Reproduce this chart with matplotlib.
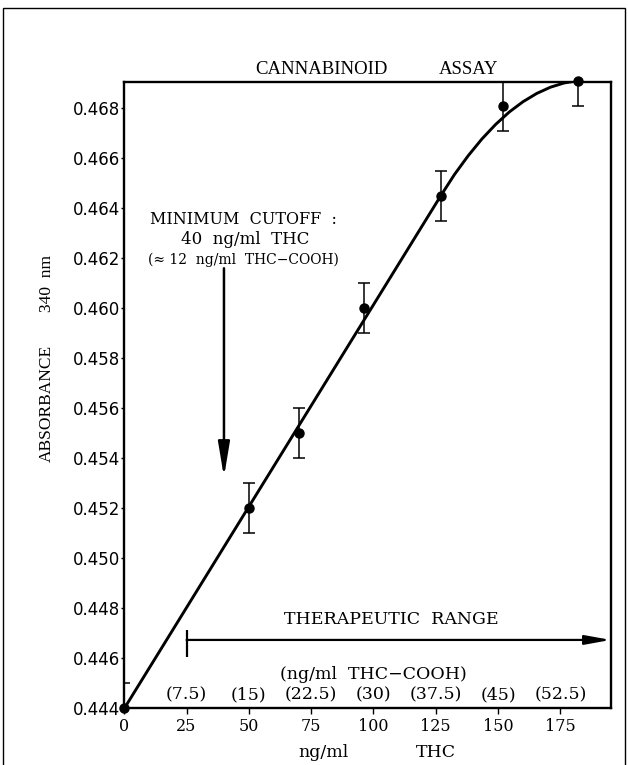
import matplotlib
matplotlib.use('Agg')
import matplotlib.pyplot as plt
from matplotlib.patches import Rectangle

# measured points (ng/ml THC vs absorbance at 340 nm)
conc = [0, 50, 70, 96, 127, 152, 182]
absorb = [0.444, 0.452, 0.455, 0.460, 0.4645, 0.4681, 0.4691]
err = [0.001, 0.001, 0.001, 0.001, 0.001, 0.001, 0.001]

# fitted calibration curve
curve_x = [0, 127, 132.5, 138, 143.5, 149, 154.5, 160, 165.5, 171, 176.5, 182]
curve_y = [0.4440, 0.4645, 0.46535, 0.46610, 0.46677, 0.46735, 0.46785,
           0.46826, 0.46859, 0.46884, 0.46901, 0.4691]

x_ticks = [0, 25, 50, 75, 100, 125, 150, 175]
y_ticks = [0.444, 0.446, 0.448, 0.450, 0.452, 0.454, 0.456, 0.458,
           0.460, 0.462, 0.464, 0.466, 0.468]
cooh_labels = ['(7.5)', '(15)', '(22.5)', '(30)', '(37.5)', '(45)', '(52.5)']
cooh_x = [25, 50, 75, 100, 125, 150, 175]

cutoff_x = 40
therapeutic_start = 25

SERIF = 'DejaVu Serif'
TIMES = 'Liberation Serif'

fig = plt.figure(figsize=(6.28, 7.65), dpi=100)
ax = fig.add_axes([0.1979, 0.0739, 0.9725 - 0.1979, 0.8932 - 0.0739])

ax.plot(curve_x, curve_y, color='black', lw=2.1, solid_capstyle='round',
        solid_joinstyle='round')
ax.errorbar(conc, absorb, yerr=err, fmt='none', ecolor='black',
            elinewidth=1.1, capsize=4, capthick=1.1)
ax.plot(conc, absorb, 'o', color='black', ms=6.5, clip_on=False, zorder=5)

ax.set_xlim(0, 195.2)
ax.set_ylim(0.444, 0.46906)
ax.set_xticks(x_ticks)
ax.set_yticks(y_ticks)
ax.set_xticklabels([str(v) for v in x_ticks], fontfamily=SERIF, fontsize=11.5)
ax.set_yticklabels([f'{v:.3f}' for v in y_ticks], fontfamily='DejaVu Sans',
                   fontsize=12)
ax.tick_params(axis='x', direction='out', length=4, width=1, pad=3)
ax.tick_params(axis='y', direction='out', length=2, width=1, pad=1)
for s in ax.spines.values():
    s.set_linewidth(1.7)

# title and axis labels, placed like the original
ax.text(79, 0.46956, 'CANNABINOID', ha='center', va='center',
        fontfamily=TIMES, fontsize=13.5, clip_on=False)
ax.text(138, 0.46956, 'ASSAY', ha='center', va='center',
        fontfamily=TIMES, fontsize=13.5, clip_on=False)
ax.text(80, 0.44222, 'ng/ml', ha='center', va='center',
        fontfamily=SERIF, fontsize=12.5, clip_on=False)
ax.text(125, 0.44222, 'THC', ha='center', va='center',
        fontfamily=SERIF, fontsize=12.5, clip_on=False)
fig.text(46.7 / 628, 1 - 403.5 / 765, 'ABSORBANCE', rotation=90,
         ha='center', va='center', fontfamily=TIMES, fontsize=12.5)
fig.text(46.7 / 628, 1 - 283.5 / 765, '340  nm', rotation=90,
         ha='center', va='center', fontfamily=TIMES, fontsize=12.5)

# minimum cutoff annotation
ax.text(48, 0.46355, 'MINIMUM  CUTOFF  :', ha='center', va='center',
        fontfamily=SERIF, fontsize=11.5)
ax.text(48.5, 0.46275, '40  ng/ml  THC', ha='center', va='center',
        fontfamily=SERIF, fontsize=12)
ax.text(47.8, 0.46195, '(≈ 12  ng/ml  THC−COOH)', ha='center', va='center',
        fontfamily=SERIF, fontsize=10)
ax.annotate('', xy=(cutoff_x, 0.45325), xytext=(cutoff_x, 0.4616),
            arrowprops=dict(arrowstyle='-|>,head_length=1.5,head_width=0.25',
                            mutation_scale=14, lw=1.8, color='black',
                            shrinkA=0, shrinkB=0))

# therapeutic range
ax.text(107, 0.44754, 'THERAPEUTIC  RANGE', ha='center', va='center',
        fontfamily=SERIF, fontsize=12.5)
ax.annotate('', xy=(195.2, 0.44674), xytext=(therapeutic_start, 0.44674),
            arrowprops=dict(arrowstyle='-|>,head_length=1.1,head_width=0.2',
                            mutation_scale=14, lw=1.6, color='black',
                            shrinkA=0, shrinkB=0))
ax.vlines(therapeutic_start, 0.44607, 0.44714, color='black', lw=1.6)
ax.text(100, 0.44534, '(ng/ml  THC−COOH)', ha='center', va='center',
        fontfamily=SERIF, fontsize=12.5)
for xv, lab in zip(cooh_x, cooh_labels):
    ax.text(xv, 0.44454, lab, ha='center', va='center',
            fontfamily=SERIF, fontsize=12.5)

# page frame of the scanned figure
fig.patches.append(Rectangle((3 / 628, -0.02), 622 / 628, 1.02 - 8 / 765,
                             transform=fig.transFigure, fill=False,
                             lw=1.0, edgecolor='black'))

fig.savefig('out.png', dpi=100)
